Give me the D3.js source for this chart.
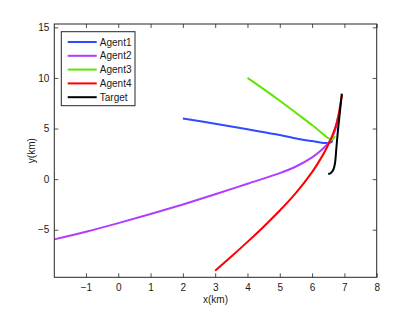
<!DOCTYPE html>
<html>
<head>
<meta charset="utf-8">
<script src="https://cdn.jsdelivr.net/npm/d3@7"></script>
<style>
  body { margin: 0; background: #fff; }
  text { font-family: "Liberation Sans", Arial, sans-serif; }
</style>
</head>
<body>
<div id="chart"></div>
<script>
// trajectories (km)
const agent1X = [2, 3, 4, 5, 5.63, 6.0, 6.4, 6.52, 6.6, 6.63];
const agent1Y = [6, 5.47, 4.92, 4.36, 3.95, 3.76, 3.57, 3.57, 3.66, 3.85];
const agent2X = [-1.98, -1, 0, 1, 2, 3, 4, 5, 5.5, 6, 6.3, 6.5, 6.65, 6.75, 6.8];
const agent2Y = [-5.95, -5.2, -4.35, -3.45, -2.5, -1.5, -0.45, 0.6, 1.25, 2.15, 2.9, 3.55, 4.35, 5.2, 6.1];
const agent3X = [4, 5, 6, 6.61, 6.7];
const agent3Y = [10, 7.75, 5.35, 3.9, 4.3];
const agent4X = [3, 3.5, 4, 4.5, 5, 5.5, 6, 6.3, 6.5, 6.65, 6.78, 6.9, 6.93];
const agent4Y = [-9.05, -7.65, -6.2, -4.7, -3.1, -1.35, 0.7, 2.2, 3.4, 4.5, 5.8, 7.85, 8.35];
const targetX = [6.5, 6.58, 6.66, 6.71, 6.75, 6.8, 6.86, 6.92];
const targetY = [0.5, 0.6, 0.95, 1.6, 3.0, 4.8, 6.6, 8.45];

const seriesNames = ["Agent1", "Agent2", "Agent3", "Agent4", "Target"];
const seriesColors = ["#2f4bff", "#b03cff", "#5ee600", "#ff0000", "#000000"];
const xTicks = [-1, 0, 1, 2, 3, 4, 5, 6, 7, 8];
const yTicks = [-5, 0, 5, 10, 15];

const series = [
  [agent1X, agent1Y],
  [agent2X, agent2Y],
  [agent3X, agent3Y],
  [agent4X, agent4Y],
  [targetX, targetY],
].map((s, i) => ({
  name: seriesNames[i],
  color: seriesColors[i],
  points: s[0].map((x, j) => ({ x: x, y: s[1][j] })),
}));

const W = 415, H = 312;
const box = { left: 54.3, right: 376.7, top: 24, bottom: 277.3 };

const svg = d3.select("#chart")
  .append("svg")
  .attr("width", W)
  .attr("height", H);

const x = d3.scaleLinear().domain([-1.98, 8]).range([box.left, box.right]);
const y = d3.scaleLinear().domain([-9.7, 15.33]).range([box.bottom, box.top]);

svg.append("defs").append("clipPath").attr("id", "clip")
  .append("rect")
  .attr("x", box.left).attr("y", box.top)
  .attr("width", box.right - box.left).attr("height", box.bottom - box.top);

// lines
const line = d3.line()
  .x(d => x(d.x))
  .y(d => y(d.y))
  .curve(d3.curveCatmullRom.alpha(0.5));

svg.append("g")
  .attr("clip-path", "url(#clip)")
  .selectAll("path")
  .data(series)
  .join("path")
  .attr("d", d => line(d.points))
  .attr("fill", "none")
  .attr("stroke", d => d.color)
  .attr("stroke-width", 2);

// axes, ticks pointing inward on all four sides
const tickLen = 4;
const axisColor = "#262626";

const bottomAxis = svg.append("g")
  .attr("transform", `translate(0,${box.bottom})`)
  .call(d3.axisBottom(x).tickValues(xTicks).tickSize(-tickLen).tickPadding(7));
const topAxis = svg.append("g")
  .attr("transform", `translate(0,${box.top})`)
  .call(d3.axisTop(x).tickValues(xTicks).tickSize(-tickLen).tickFormat(""));
const leftAxis = svg.append("g")
  .attr("transform", `translate(${box.left},0)`)
  .call(d3.axisLeft(y).tickValues(yTicks).tickSize(-tickLen).tickPadding(5));
const rightAxis = svg.append("g")
  .attr("transform", `translate(${box.right},0)`)
  .call(d3.axisRight(y).tickValues(yTicks).tickSize(-tickLen).tickFormat(""));

[bottomAxis, topAxis, leftAxis, rightAxis].forEach(a => {
  a.select(".domain").remove();
  a.selectAll(".tick line").attr("stroke", axisColor).attr("stroke-width", 0.8);
  a.selectAll(".tick text")
    .attr("fill", "#1a1a1a")
    .style("font-size", "10px")
    .style("font-family", "Liberation Sans, Arial, sans-serif");
});

svg.append("rect")
  .attr("x", box.left).attr("y", box.top)
  .attr("width", box.right - box.left).attr("height", box.bottom - box.top)
  .attr("fill", "none")
  .attr("stroke", axisColor)
  .attr("stroke-width", 1);

// axis labels
svg.append("text")
  .attr("x", (box.left + box.right) / 2)
  .attr("y", 303)
  .attr("text-anchor", "middle")
  .style("font-size", "10px")
  .attr("fill", "#1a1a1a")
  .text("x(km)");

svg.append("text")
  .attr("transform", `translate(35,${(box.top + box.bottom) / 2}) rotate(-90)`)
  .attr("text-anchor", "middle")
  .style("font-size", "10px")
  .attr("fill", "#1a1a1a")
  .text("y(km)");

// legend
const legend = svg.append("g").attr("transform", "translate(61.3,31.7)");
legend.append("rect")
  .attr("width", 73.7)
  .attr("height", 74)
  .attr("fill", "#fff")
  .attr("stroke", axisColor)
  .attr("stroke-width", 1);

const item = legend.selectAll("g.item")
  .data(series)
  .join("g")
  .attr("class", "item")
  .attr("transform", (d, i) => `translate(0,${10.3 + i * 13.8})`);

item.append("line")
  .attr("x1", 6.4).attr("x2", 35.4)
  .attr("stroke", d => d.color)
  .attr("stroke-width", 2);

item.append("text")
  .attr("x", 38.5)
  .attr("dy", "0.35em")
  .style("font-size", "10px")
  .attr("fill", "#1a1a1a")
  .text(d => d.name);
</script>
</body>
</html>
